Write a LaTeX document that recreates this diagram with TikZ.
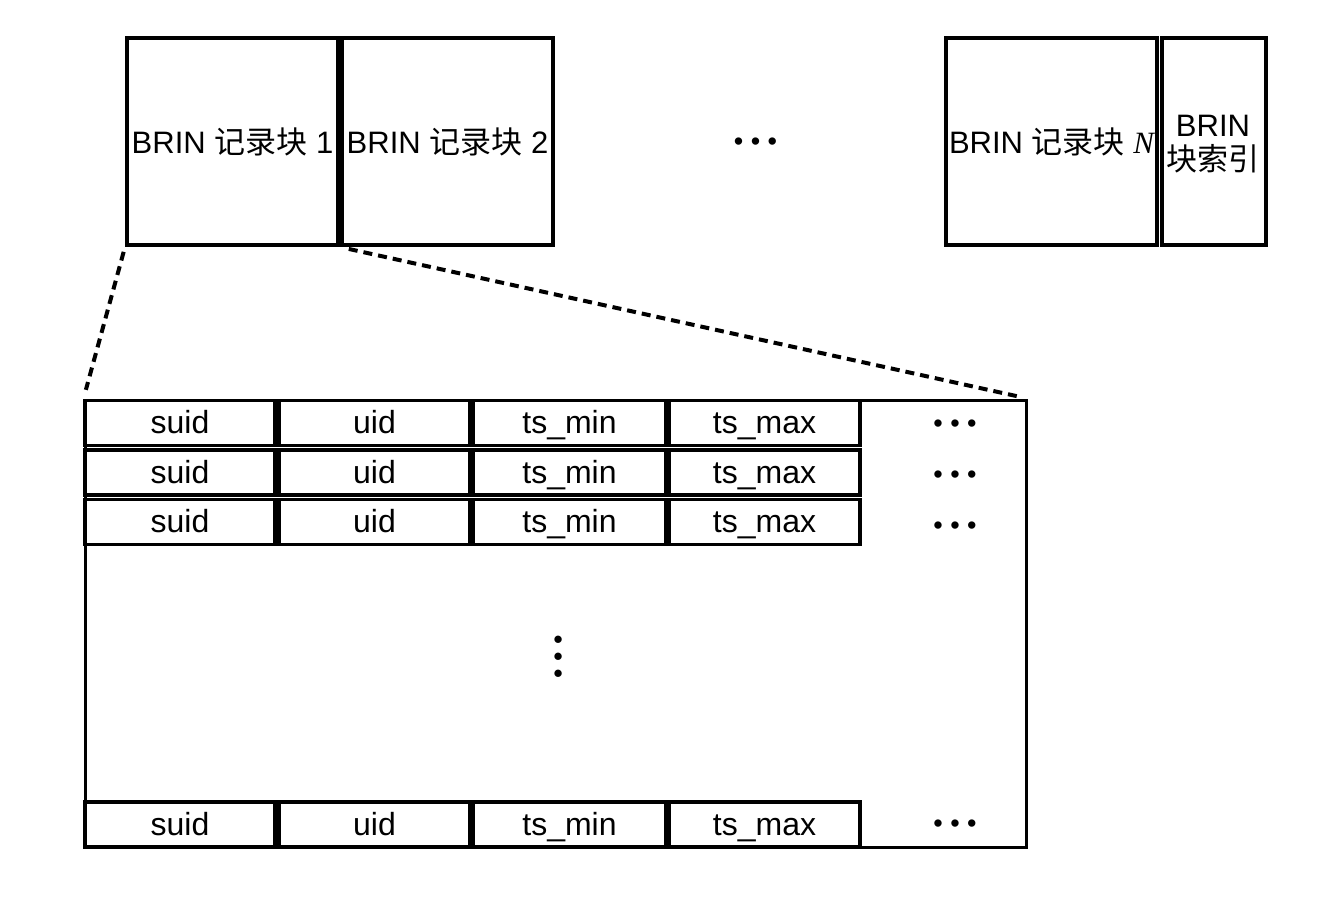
\documentclass[tikz,border=0pt]{standalone}
\usepackage{fontspec}
\setmainfont{Liberation Sans}
\newfontfamily\cjk{Noto Sans CJK SC}
\newfontfamily\serifit{Liberation Serif}
\newcommand\topfont{\fontsize{31}{34}\selectfont}
\newcommand\cellfont{\fontsize{32}{36}\selectfont}
\newcommand\dotfont{\fontsize{27}{30}\selectfont}
\newcommand\threedots{•\kern7.5pt•\kern7.5pt•}
\begin{document}
\begin{tikzpicture}[x=1pt,y=-1pt,
  blk/.style={draw, line width=4pt, inner sep=0pt, minimum height=207pt, font=\topfont, align=center},
  lbl/.style={inner sep=0pt, font=\topfont, anchor=base},
  tblbox/.style={draw, line width=3pt, inner sep=0pt},
  cellbox/.style={draw, line width=3.5pt, inner sep=0pt, minimum height=45pt, font=\cellfont, text height=23pt, text depth=2pt},
  dotsnode/.style={inner sep=0pt, font=\dotfont, text height=21pt, text depth=0pt},
  dashline/.style={line width=4pt, dash pattern=on 9pt off 6pt}]
\useasboundingbox (0,0) rectangle (1326,902);
% top blocks
\node[blk, minimum width=211pt] (b1) at (232.5,141.5) {BRIN {\cjk 记录块} 1};
\node[blk, minimum width=211pt] (b2) at (447.5,141.5) {BRIN {\cjk 记录块} 2};
\node[dotsnode] (tdots) at (755.5,140) {\threedots};
\node[blk, minimum width=211pt] (bn) at (1051.5,141.5) {BRIN {\cjk 记录块} {\serifit\itshape N}};
\node[blk, minimum width=104pt] (bi) at (1214,141.5) {};
\node[lbl] (bi1) at (1213,136) {BRIN};
\node[lbl] (bi2) at (1213,170) {\cjk 块索引};
% expanded table
\node[tblbox, minimum width=941pt, minimum height=447pt] (tbl) at (555.5,623.5) {};
\foreach \r/\y in {1/423,2/472.5,3/522,4/824.5} {
  \node[cellbox, minimum width=190pt] (s\r) at (180,\y) {suid};
  \node[cellbox, minimum width=191pt] (u\r) at (374.5,\y) {uid};
  \node[cellbox, minimum width=193pt] (n\r) at (569.5,\y) {ts\_min};
  \node[cellbox, minimum width=191pt] (m\r) at (764.5,\y) {ts\_max};
}
\node[dotsnode] (e1) at (955,422) {\threedots};
\node[dotsnode] (e2) at (955,473) {\threedots};
\node[dotsnode] (e3) at (955,524) {\threedots};
\node[dotsnode] (e4) at (955,822) {\threedots};
\node[dotsnode, rotate=90] (vd) at (557,657) {\threedots};
% zoom connectors
\draw[dashline, shorten <=5pt, shorten >=9pt] (b1.south west) -- (tbl.north west);
\draw[dashline, shorten <=9pt, shorten >=9pt] (b1.south east) -- (tbl.north east);
\end{tikzpicture}
\end{document}
